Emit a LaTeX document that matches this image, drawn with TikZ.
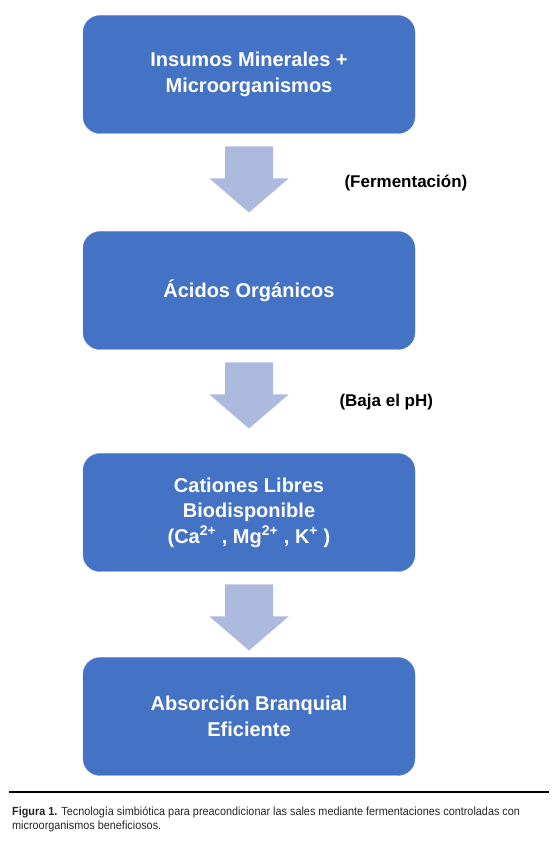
\documentclass[tikz,border=0pt]{standalone}
\usepackage{fontspec}
\setmainfont{Liberation Sans}
\newfontfamily\captfont[FakeStretch=0.92]{Liberation Sans}
\usetikzlibrary{positioning,calc}
\definecolor{cajaazul}{RGB}{68,114,196}
\definecolor{bordeazul}{RGB}{98,136,206}
\definecolor{flechaazul}{RGB}{172,186,222}
\newcommand{\flecha}[1]{%
  \fill[flechaazul] ($(#1.south)+(-24,-13)$) -- ++(48,0) -- ++(0,-32)
    -- ++(15.5,0) -- ++(-39.5,-34) -- ++(-39.5,34) -- ++(15.5,0) -- cycle;}

\begin{document}
\begin{tikzpicture}[x=1pt,y=1pt,
    caja/.style={draw=bordeazul, fill=cajaazul, rounded corners=17,
      minimum width=332, minimum height=118, inner sep=0, outer sep=0,
      text=white, align=center, font=\bfseries\fontsize{20}{25.5}\selectfont},
    etiq/.style={anchor=west, font=\bfseries\fontsize{17}{20}\selectfont}]
    \useasboundingbox (0,0) rectangle (554,841);

    \node[caja] (insumos) at (249,766.5) {Insumos Minerales +\\Microorganismos};
    \node[caja, below=98 of insumos] (acidos) {Ácidos Orgánicos};
    \node[caja, below=104 of acidos] (cationes) {Cationes Libres\\Biodisponible\\(Ca\textsuperscript{2+} , Mg\textsuperscript{2+} , K\textsuperscript{+} )};
    \node[caja, below=86 of cationes] (absorcion) {Absorción Branquial\\Eficiente};

    \flecha{insumos}
    \flecha{acidos}
    \flecha{cationes}

    \node[etiq] (ferm) at (341,658) {(Fermentación)};
    \node[etiq] (baja) at (336,439) {(Baja el pH)};

    \draw [line width=1.5] (9,49) -- (549,49);
    \node[anchor=north west, align=left, inner sep=0, text=black!85,
      font=\captfont\fontsize{11.8}{13.5}\selectfont] (pie) at (12,34)
      {\textbf{Figura 1.} Tecnología simbiótica para preacondicionar las sales mediante fermentaciones controladas con\\microorganismos beneficiosos.};
\end{tikzpicture}
\end{document}
